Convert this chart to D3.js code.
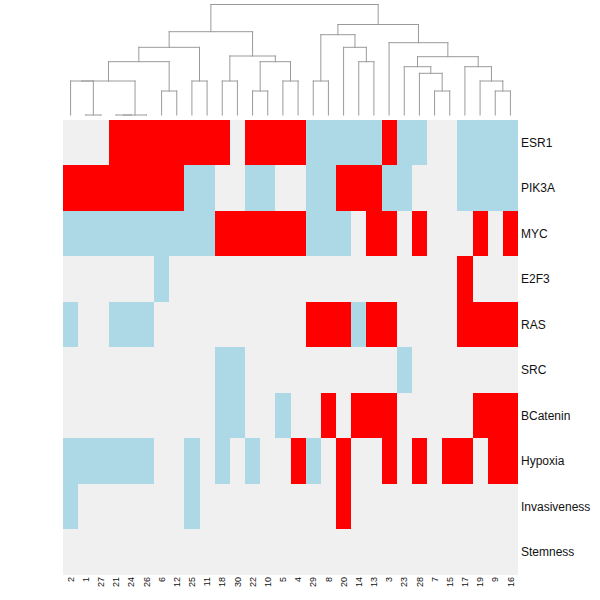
<!DOCTYPE html>
<html>
<head>
<meta charset="utf-8">
<script src="https://cdn.jsdelivr.net/npm/d3@7"></script>
<style>
  html, body { margin: 0; padding: 0; background: #ffffff; }
  svg { display: block; }
</style>
</head>
<body>
<div id="chart"></div>
<script>
// ---- data ----
const columns = ["2","1","27","21","24","26","6","12","25","11","18","30","22","10","5","4",
                 "29","8","20","14","13","3","23","28","7","15","17","19","9","16"];
const rows = ["ESR1","PIK3A","MYC","E2F3","RAS","SRC","BCatenin","Hypoxia","Invasiveness","Stemness"];

// 1 = up (red), -1 = down (blue), 0 = none (grey)
const ESR1 =         [0,0,0,1,1,1,1,1,1,1,1,0,1,1,1,1,-1,-1,-1,-1,-1,1,-1,-1,0,0,-1,-1,-1,-1];
const PIK3A =        [1,1,1,1,1,1,1,1,-1,-1,0,0,-1,-1,0,0,-1,-1,1,1,1,-1,-1,0,0,0,-1,-1,-1,-1];
const MYC =          [-1,-1,-1,-1,-1,-1,-1,-1,-1,-1,1,1,1,1,1,1,-1,-1,-1,0,1,1,0,1,0,0,0,1,0,1];
const E2F3 =         [0,0,0,0,0,0,-1,0,0,0,0,0,0,0,0,0,0,0,0,0,0,0,0,0,0,0,1,0,0,0];
const RAS =          [-1,0,0,-1,-1,-1,0,0,0,0,0,0,0,0,0,0,1,1,1,-1,1,1,0,0,0,0,1,1,1,1];
const SRC =          [0,0,0,0,0,0,0,0,0,0,-1,-1,0,0,0,0,0,0,0,0,0,0,-1,0,0,0,0,0,0,0];
const BCatenin =     [0,0,0,0,0,0,0,0,0,0,-1,-1,0,0,-1,0,0,1,0,1,1,1,0,0,0,0,0,1,1,1];
const Hypoxia =      [-1,-1,-1,-1,-1,-1,0,0,-1,0,-1,0,-1,0,0,1,-1,0,1,0,0,1,0,1,0,1,1,0,1,1];
const Invasiveness = [-1,0,0,0,0,0,0,0,-1,0,0,0,0,0,0,0,0,0,1,0,0,0,0,0,0,0,0,0,0,0];
const Stemness =     [0,0,0,0,0,0,0,0,0,0,0,0,0,0,0,0,0,0,0,0,0,0,0,0,0,0,0,0,0,0];
const rowValues = [ESR1, PIK3A, MYC, E2F3, RAS, SRC, BCatenin, Hypoxia, Invasiveness, Stemness];

// dendrogram merges (leaf = column label, "mN" = N-th merge, 1-based)
const mergeLeft =   ["1","21","m2","2","m4","6","m5","25","m7","18","22","5","m11","m10","m9",
                     "29","14","20","m16","7","28","23","9","19","17","m22","3","m19","m15"];
const mergeRight =  ["27","24","26","m1","m3","12","m6","11","m8","30","10","4","m12","m13","m14",
                     "8","13","m17","m18","15","m20","m21","16","m23","m24","m25","m26","m27","m28"];
const mergeHeight = [0,0,0,34,34,24,53.3,34,67.7,34,24,34,53.3,59,83.3,
                     34,53.3,67.7,80.3,24,41.7,48.3,24,34,48.3,58.3,72.3,90.5,110.5];

const colorDomain = [-1, 0, 1];
const colorRange = ["#ADD8E6", "#F0F0F0", "#FF0000"];

// ---- layout ----
const W = 600, H = 600;
const svg = d3.select("#chart").append("svg").attr("width", W).attr("height", H);

const x = d3.scaleBand().domain(columns).range([63, 518]).padding(0);
const y = d3.scaleBand().domain(rows).range([120, 574.5]).padding(0);
const color = d3.scaleOrdinal().domain(colorDomain).range(colorRange);
const hY = d3.scaleLinear().domain([0, d3.max(mergeHeight)]).range([115, 4.5]);

// cells
const cells = [];
rows.forEach((r, i) => columns.forEach((c, j) => cells.push({row: r, col: c, v: rowValues[i][j]})));
svg.append("g").selectAll("rect").data(cells).join("rect")
  .attr("x", d => x(d.col))
  .attr("y", d => y(d.row))
  .attr("width", x.bandwidth() + 0.3)
  .attr("height", y.bandwidth() + 0.3)
  .attr("fill", d => color(d.v))
  .attr("shape-rendering", "crispEdges");

// row labels
svg.append("g").selectAll("text").data(rows).join("text")
  .attr("x", 521)
  .attr("y", d => y(d) + y.bandwidth() / 2)
  .attr("dy", "0.35em")
  .attr("font-family", "Arial, 'Liberation Sans', sans-serif")
  .attr("font-size", 12)
  .attr("fill", "#111")
  .text(d => d);

// column labels
svg.append("g").selectAll("text").data(columns).join("text")
  .attr("transform", d => `translate(${x(d) + x.bandwidth() / 2},577) rotate(-90)`)
  .attr("dy", "0.35em")
  .attr("text-anchor", "end")
  .attr("font-family", "Arial, 'Liberation Sans', sans-serif")
  .attr("font-size", 9)
  .attr("fill", "#111")
  .text(d => d);

// dendrogram
const nodePos = {};
columns.forEach(c => nodePos[c] = {x: x(c) + x.bandwidth() / 2, h: 0});
const segs = [];
mergeLeft.forEach((l, i) => {
  const a = nodePos[l], b = nodePos[mergeRight[i]], h = mergeHeight[i];
  segs.push([a.x, hY(a.h), a.x, hY(h)]);
  segs.push([b.x, hY(b.h), b.x, hY(h)]);
  segs.push([a.x, hY(h), b.x, hY(h)]);
  nodePos["m" + (i + 1)] = {x: (a.x + b.x) / 2, h: h};
});
svg.append("g").selectAll("line").data(segs).join("line")
  .attr("x1", d => d[0]).attr("y1", d => d[1])
  .attr("x2", d => d[2]).attr("y2", d => d[3])
  .attr("stroke", "#9a9a9a")
  .attr("stroke-width", 1)
  .attr("stroke-linecap", "square");
</script>
</body>
</html>
